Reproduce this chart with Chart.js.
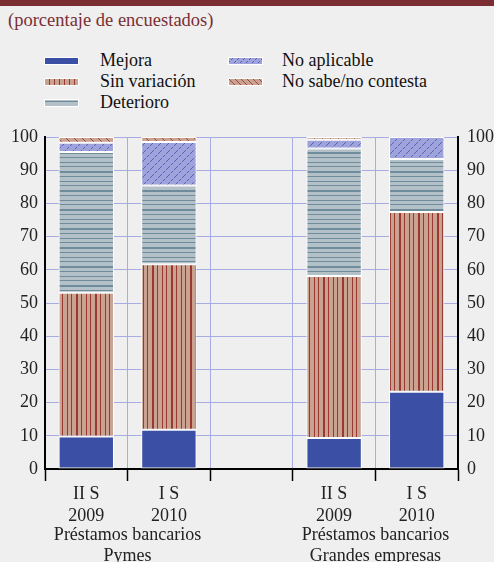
<!DOCTYPE html>
<html>
<head>
<meta charset="utf-8">
<script src="https://cdn.jsdelivr.net/npm/chart.js@4.4.0/dist/chart.umd.min.js"></script>
<style>
  body {
    margin: 0;
    background: #efefef;
    width: 494px;
    height: 562px;
    overflow: hidden;
    position: relative;
    font-family: "Liberation Serif", "Times New Roman", Tinos, "DejaVu Serif", "Noto Serif", serif;
  }
  #band { position: absolute; left: 0; top: 0; width: 494px; height: 6px; background: #7a2e32; }
  #title { position: absolute; left: 8px; top: 10px; font-size: 18.5px; line-height: 20px; color: #7a2e32; }
  .item { position: absolute; font-size: 18px; line-height: 20px; color: #111; white-space: nowrap; }
  .sw { position: absolute; }
  #wrap { position: absolute; left: 0; top: 0; width: 494px; height: 562px; }
</style>
</head>
<body>
<div id="band"></div>
<div id="title">(porcentaje de encuestados)</div>
<div id="legend"></div>
<div id="wrap"><canvas id="chart"></canvas></div>
<script>
// datos (porcentaje de encuestados)
const categories = [["II S", "2009"], ["I S", "2010"], "", ["II S", "2009"], ["I S", "2010"]];
const groupLabels = [["Préstamos bancarios", "Pymes"], ["Préstamos bancarios", "Grandes empresas"]];
const groupIndex = [[0, 1], [3, 4]];
const seriesNames = ["Mejora", "Sin variación", "Deterioro", "No aplicable", "No sabe/no contesta"];
const mejora = [9.8, 11.8, null, 9.3, 23.3];
const sinVariacion = [43.3, 49.9, null, 48.8, 54.1];
const deterioro = [42.4, 23.7, null, 38.4, 16.0];
const noAplicable = [2.8, 13.1, null, 2.7, 6.6];
const noSabe = [1.7, 1.5, null, 0.8, 0];

const serif = '"Liberation Serif", "Times New Roman", Tinos, "DejaVu Serif", "Noto Serif", serif';
const fontSize = 18;
const canvas = document.getElementById("chart");
const ctx = canvas.getContext("2d");

// baldosas de trama
function makeTile(bg, w, h, draw) {
  const tile = document.createElement("canvas");
  tile.width = w;
  tile.height = h;
  const g = tile.getContext("2d");
  g.fillStyle = bg;
  g.fillRect(0, 0, w, h);
  draw(g);
  return tile;
}

const tileSinVar = makeTile("#c9a292", 19, 4, function (g) {
  g.fillStyle = "#983a30";
  g.fillRect(0, 0, 2, 4);
  g.fillRect(5, 0, 1, 4);
  g.fillRect(10, 0, 1, 4);
  g.fillRect(14, 0, 1, 4);
});
const tileDeterioro = makeTile("#b4c0c7", 4, 19, function (g) {
  g.fillStyle = "#6e8c9b";
  g.fillRect(0, 0, 4, 2);
  g.fillRect(0, 5, 4, 1);
  g.fillRect(0, 10, 4, 1);
  g.fillRect(0, 14, 4, 1);
});
// "/" discontinua
const tileNoAplic = makeTile("#9ea3dc", 8, 8, function (g) {
  g.fillStyle = "#5760b6";
  for (let i = 0; i < 8; i++) {
    if (i % 3 !== 2) g.fillRect(i, 7 - i, 1, 1);
  }
});
// "\" continua
const tileNoSabe = makeTile("#c9a292", 8, 8, function (g) {
  g.fillStyle = "#9a4a40";
  for (let i = 0; i < 8; i++) {
    g.fillRect(i, i, 1, 1);
  }
});

const fillMejora = "#3b4fa5";
const fillSinVar = ctx.createPattern(tileSinVar, "repeat");
const fillDeterioro = ctx.createPattern(tileDeterioro, "repeat");
const fillNoAplic = ctx.createPattern(tileNoAplic, "repeat");
const fillNoSabe = ctx.createPattern(tileNoSabe, "repeat");

// muestras de la leyenda (trama más fina)
const legendTiles = [
  null,
  makeTile("#c9a292", 5, 4, function (g) { g.fillStyle = "#983a30"; g.fillRect(0, 0, 1, 4); }),
  makeTile("#b4c0c7", 4, 5, function (g) { g.fillStyle = "#6e8c9b"; g.fillRect(0, 2, 4, 1); }),
  makeTile("#9ea3dc", 6, 6, function (g) {
    g.fillStyle = "#5760b6";
    for (let i = 0; i < 6; i++) if (i % 3 !== 2) g.fillRect(i, 5 - i, 1, 1);
  }),
  makeTile("#c9a292", 6, 6, function (g) {
    g.fillStyle = "#9a4a40";
    for (let i = 0; i < 6; i++) g.fillRect(i, i, 1, 1);
  })
];

// leyenda en dos columnas
function buildLegend() {
  const legend = document.getElementById("legend");
  const cols = [[0, 1, 2], [3, 4]];
  const colX = [[44, 100], [228, 282]];
  const rowTop = [50, 71, 92];
  cols.forEach(function (col, c) {
    col.forEach(function (s, r) {
      const sw = document.createElement("canvas");
      sw.width = 35;
      sw.height = 8;
      sw.className = "sw";
      sw.style.left = colX[c][0] + "px";
      sw.style.top = (rowTop[r] + 7) + "px";
      const g = sw.getContext("2d");
      g.fillStyle = "#ffffff";
      g.fillRect(0, 0, 35, 8);
      g.fillStyle = s === 0 ? fillMejora : g.createPattern(legendTiles[s], "repeat");
      g.fillRect(1, 1, 33, 6);
      legend.appendChild(sw);

      const t = document.createElement("div");
      t.className = "item";
      t.style.left = colX[c][1] + "px";
      t.style.top = rowTop[r] + "px";
      t.textContent = seriesNames[s];
      legend.appendChild(t);
    });
  });
}

// etiquetas de grupo bajo el eje
const groupLabelPlugin = {
  id: "groupLabels",
  afterDraw(chart) {
    const x = chart.scales.x;
    const c = chart.ctx;
    c.save();
    c.font = fontSize + "px " + serif;
    c.fillStyle = "#222";
    c.textAlign = "center";
    c.textBaseline = "middle";
    groupIndex.forEach(function (pair, i) {
      const cx = (x.getPixelForValue(pair[0]) + x.getPixelForValue(pair[1])) / 2;
      c.fillText(groupLabels[i][0], cx, 535);
      c.fillText(groupLabels[i][1], cx, 556);
    });
    c.restore();
  }
};

function dataset(label, data, fill) {
  return {
    label: label,
    data: data,
    backgroundColor: fill,
    borderColor: "#ffffff",
    borderWidth: 1,
    borderSkipped: false,
    barPercentage: 0.67,
    categoryPercentage: 1
  };
}

buildLegend();

new Chart(ctx, {
  type: "bar",
  data: {
    labels: categories,
    datasets: [
      dataset(seriesNames[0], mejora, fillMejora),
      dataset(seriesNames[1], sinVariacion, fillSinVar),
      dataset(seriesNames[2], deterioro, fillDeterioro),
      dataset(seriesNames[3], noAplicable, fillNoAplic),
      dataset(seriesNames[4], noSabe, fillNoSabe)
    ]
  },
  options: {
    responsive: true,
    maintainAspectRatio: false,
    animation: false,
    layout: { padding: { top: 137, left: 0, right: 0, bottom: 0 } },
    plugins: {
      legend: { display: false },
      tooltip: { enabled: false }
    },
    scales: {
      x: {
        stacked: true,
        grid: {
          color: "#a9abe3",
          lineWidth: 1,
          tickColor: "#000",
          tickLength: 12,
          tickWidth: 1.5,
          offset: true
        },
        border: { display: true, color: "#000", width: 2 },
        ticks: {
          color: "#222",
          font: { family: serif, size: fontSize, lineHeight: 1.18 },
          padding: 3,
          maxRotation: 0,
          autoSkip: false
        },
        afterFit(scale) { scale.height = 93; }
      },
      y: {
        stacked: true,
        position: "left",
        min: 0,
        max: 100,
        grid: { color: "#a9abe3", lineWidth: 1, drawTicks: false },
        border: { display: true, color: "#000", width: 2 },
        ticks: {
          stepSize: 10,
          color: "#222",
          font: { family: serif, size: fontSize },
          padding: 7
        },
        afterFit(scale) { scale.width = 45; }
      },
      y2: {
        position: "right",
        min: 0,
        max: 100,
        grid: { display: false, drawTicks: false },
        border: { display: true, color: "#000", width: 2 },
        ticks: {
          stepSize: 10,
          color: "#222",
          font: { family: serif, size: fontSize },
          padding: 9
        },
        afterFit(scale) { scale.width = 36; }
      }
    }
  },
  plugins: [groupLabelPlugin]
});
</script>
</body>
</html>
